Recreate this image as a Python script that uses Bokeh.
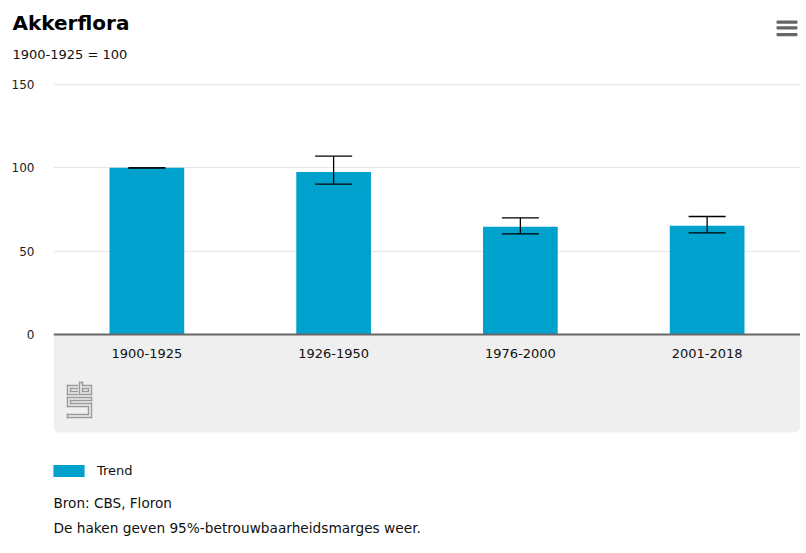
from bokeh.plotting import figure
from bokeh.layouts import column
from bokeh.models import (ColumnDataSource, Whisker, TeeHead, Span, BoxAnnotation,
                          Label, Legend, LegendItem, FixedTicker, FactorRange, Range1d)
from bokeh.core.properties import value
from bokeh.embed import file_html
from bokeh.resources import INLINE

# ---- data ----
categories = ["1900-1925", "1926-1950", "1976-2000", "2001-2018"]
trend = [100, 97.5, 64.7, 65.3]
lower = [100, 90.2, 60.4, 61.0]
upper = [100, 107.0, 70.0, 70.8]
y_ticks = [0, 50, 100, 150]
series_name = "Trend"
title_text = "Akkerflora"
subtitle_text = "1900-1925 = 100"
source_text = "Bron: CBS, Floron"
note_text = "De haken geven 95%-betrouwbaarheidsmarges weer."

# ---- layout (page pixels) ----
FONT = "DejaVu Sans"
W = 800
HEAD_H = 74
MAIN_H = 471
BL, BT = 53, 6
FRAME_TOP_PAGE = HEAD_H + BT          # 80
FRAME_BOTTOM_PAGE = HEAD_H + MAIN_H   # 545
ZERO_PAGE = 334
TOP_TICK_PAGE = 84
PX_PER_UNIT = (ZERO_PAGE - TOP_TICK_PAGE) / 150.0
Y_MAX = 150 + (TOP_TICK_PAGE - FRAME_TOP_PAGE) / PX_PER_UNIT
Y_MIN = -(FRAME_BOTTOM_PAGE - ZERO_PAGE) / PX_PER_UNIT
GREY_BOTTOM = -(432 - ZERO_PAGE) / PX_PER_UNIT
BAR_COLOR = "#00A1CD"
TEXT_COLOR = "#111111"


def fx(px):
    return px - BL


def fy(py):
    return FRAME_BOTTOM_PAGE - py


# ---- header ----
head = figure(width=W, height=HEAD_H, output_backend="svg", toolbar_location=None,
              x_range=Range1d(0, W), y_range=Range1d(HEAD_H, 0),
              x_axis_location=None, y_axis_location=None,
              min_border=0, min_border_left=0, min_border_right=0,
              min_border_top=0, min_border_bottom=0)
head.frame_align = False
head.outline_line_color = None
head.xgrid.grid_line_color = None
head.ygrid.grid_line_color = None
head.add_layout(Label(x=12, y=22.5, text=title_text, text_font=FONT, text_font_size="20px",
                      text_font_style="bold", text_color="#000000", text_baseline="middle"))
head.add_layout(Label(x=12, y=54, text=subtitle_text, text_font=FONT, text_font_size="13px",
                      text_color=TEXT_COLOR, text_baseline="middle"))
for y0, y1 in [(20, 23.3), (25.8, 29.1), (32.4, 35.7)]:
    head.add_layout(BoxAnnotation(left=776, right=797, top=y0, bottom=y1,
                                  fill_color="#666666", fill_alpha=1, line_color=None,
                                  border_radius=1))

# ---- main ----
p = figure(width=W, height=MAIN_H, output_backend="svg", toolbar_location=None,
           x_range=FactorRange(factors=categories, range_padding=0),
           y_range=Range1d(Y_MIN, Y_MAX), x_axis_location=None,
           min_border_left=BL, min_border_right=0, min_border_top=BT, min_border_bottom=0)
p.frame_align = False
p.outline_line_color = None

grey = BoxAnnotation(bottom=GREY_BOTTOM, top=0, fill_color="#efefef", fill_alpha=1,
                     line_color=None, border_radius=(0, 0, 6, 6), level="underlay")
p.add_layout(grey)

p.yaxis.ticker = FixedTicker(ticks=y_ticks)
p.yaxis.axis_line_color = None
p.yaxis.major_tick_line_color = None
p.yaxis.minor_tick_line_color = None
p.yaxis.major_tick_out = 0
p.yaxis.major_label_standoff = 19
p.yaxis.major_label_text_font = FONT
p.yaxis.major_label_text_font_size = "12px"
p.yaxis.major_label_text_color = "#222222"
p.ygrid.ticker = FixedTicker(ticks=[t for t in y_ticks if t > 0])
p.ygrid.grid_line_color = "#e6e6e6"
p.xgrid.grid_line_color = None

src = ColumnDataSource(dict(x=categories, top=trend, lower=lower, upper=upper))
bars = p.vbar(x="x", top="top", width=0.4, source=src, fill_color=BAR_COLOR, line_color=None)

wh = Whisker(base="x", upper="upper", lower="lower", source=src, line_color="black",
             line_width=1.3, level="overlay",
             upper_head=TeeHead(size=37, line_color="black", line_width=1.3),
             lower_head=TeeHead(size=37, line_color="black", line_width=1.3))
p.add_layout(wh)

p.add_layout(Span(location=0, dimension="width", line_color="#666666", line_width=2))

p.text(x=categories, y=[0] * len(categories), text=categories, y_offset=19,
       text_align="center", text_baseline="middle", text_font=value(FONT),
       text_font_size="13px", text_color=TEXT_COLOR)

leg = Legend(items=[LegendItem(label=series_name, renderers=[bars])], location=(-4, fy(478)),
             glyph_width=39, glyph_height=15, label_height=15, label_standoff=9,
             padding=0, margin=0, border_line_color=None, background_fill_alpha=0,
             label_text_font=FONT, label_text_font_size="13px", label_text_color=TEXT_COLOR)
p.add_layout(leg, "center")


def add_label(text, px, py, size):
    p.add_layout(Label(x=fx(px), y=fy(py), x_units="screen", y_units="screen", text=text,
                       text_font=FONT, text_font_size=size, text_color=TEXT_COLOR,
                       text_baseline="middle"))


add_label(source_text, 53, 502.5, "13.6px")
add_label(note_text, 53, 527.5, "13.7px")


def screen_box(x0, y0, x1, y1, color):
    p.add_layout(BoxAnnotation(left=fx(x0), right=fx(x1), top=fy(y0), bottom=fy(y1),
                               left_units="screen", right_units="screen",
                               top_units="screen", bottom_units="screen",
                               fill_color=color, fill_alpha=1, line_color=None,
                               level="overlay"))


# CBS logo (decoration), segments in local px
LX, LY, T = 67, 382, 1.4
segs = [
    ((0, 3), (10, 3)), ((0, 3), (0, 12)), ((0, 12), (10, 12)),
    ((3, 6), (10, 6)), ((3, 6), (3, 9)), ((3, 9), (10, 9)),
    ((12, 0), (12, 12)), ((12, 0), (15, 0)), ((15, 0), (15, 3)), ((15, 3), (24, 3)),
    ((24, 3), (24, 12)), ((12, 12), (24, 12)),
    ((15, 6), (21, 6)), ((21, 6), (21, 9)), ((15, 9), (21, 9)), ((15, 6), (15, 9)),
    ((0, 15), (24, 15)), ((24, 15), (24, 18)), ((3, 18), (24, 18)), ((3, 18), (3, 21)),
    ((3, 21), (24, 21)), ((24, 21), (24, 35)), ((0, 35), (24, 35)), ((0, 32), (0, 35)),
    ((0, 32), (21, 32)), ((21, 24), (21, 32)), ((0, 24), (21, 24)), ((0, 15), (0, 24)),
]
for (a, b) in segs:
    x0, y0 = LX + min(a[0], b[0]), LY + min(a[1], b[1])
    x1, y1 = LX + max(a[0], b[0]), LY + max(a[1], b[1])
    screen_box(x0 - T / 2, y0 - T / 2, x1 + T / 2, y1 + T / 2, "#9a9a9a")

layout = column(head, p, spacing=0)
open("out.html", "w").write(file_html(layout, INLINE))
